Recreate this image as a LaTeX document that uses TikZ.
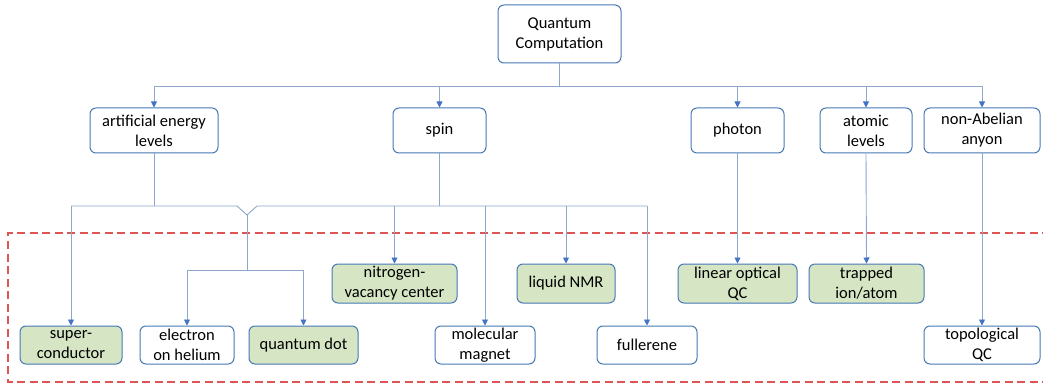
\documentclass[tikz,border=0pt]{standalone}
\usepackage{fontspec}
\setmainfont{Carlito}
\usetikzlibrary{arrows.meta}

\definecolor{boxblue}{RGB}{70,120,180}
\definecolor{boxgreen}{RGB}{214,230,196}
\definecolor{lineblue}{RGB}{140,168,205}
\definecolor{tipblue}{RGB}{68,114,196}
\definecolor{dashred}{RGB}{222,85,85}

\tikzset{
  qbox/.style={draw=boxblue, line width=1pt, rounded corners=6pt, align=center,
    inner sep=0pt, fill=white, font=\fontsize{16.5}{20}\selectfont},
  qgreen/.style={qbox, fill=boxgreen},
  link/.style={draw=lineblue, line width=0.9pt},
  arr/.style={link, -{Triangle[width=6pt,length=6pt,color=tipblue]}}
}

\begin{document}
\begin{tikzpicture}[x=1pt,y=-1pt]

    \useasboundingbox (0,0) rectangle (1043,387);

    % hardware region
    \draw[dashred, line width=1.3pt, dash pattern=on 8pt off 4.5pt]
        (1050,233) -- (8,233) -- (8,382) -- (1050,382);

    % root
    \node[qbox, minimum width=123, minimum height=58] (root) at (559.5,34) {Quantum\\Computation};

    % physical systems
    \node[qbox, minimum width=128, minimum height=45] (artif) at (154,130.5) {artificial energy\\levels};
    \node[qbox, minimum width=93, minimum height=45] (spin) at (439.5,130.5) {spin};
    \node[qbox, minimum width=93, minimum height=45] (photon) at (737.5,130.5) {photon};
    \node[qbox, minimum width=92, minimum height=45] (atomic) at (866,130.5) {atomic\\levels};
    \node[qbox, minimum width=116, minimum height=45] (anyon) at (982,130.5) {non-Abelian\\anyon};

    % implementations, upper row
    \node[qgreen, minimum width=125, minimum height=39] (nv) at (394.5,283.5) {nitrogen-\\vacancy center};
    \node[qgreen, minimum width=98, minimum height=39] (nmr) at (566,283.5) {liquid NMR};
    \node[qgreen, minimum width=119, minimum height=39] (loqc) at (737.5,283.5) {linear optical\\QC};
    \node[qgreen, minimum width=115, minimum height=39] (trap) at (866.5,283.5) {trapped\\ion/atom};

    % implementations, lower row
    \node[qgreen, minimum width=102, minimum height=38] (sc) at (71,345) {super-\\conductor};
    \node[qbox, minimum width=94, minimum height=38] (eh) at (187,345) {electron\\on helium};
    \node[qgreen, minimum width=109, minimum height=38] (qd) at (303.5,345) {quantum dot};
    \node[qbox, minimum width=100, minimum height=38] (mm) at (485,345) {molecular\\magnet};
    \node[qbox, minimum width=100, minimum height=38] (ful) at (647,345) {fullerene};
    \node[qbox, minimum width=116, minimum height=38] (topo) at (982,345) {topological\\QC};

    % root to physical systems
    \coordinate (bus) at (559.5,86);
    \draw[link] (root.south) -- (bus);
    \draw[link] (artif.north |- bus) -- (anyon.north |- bus);
    \foreach \n in {artif,spin,photon,atomic,anyon}
        \draw[arr] (\n.north |- bus) -- (\n.north);

    % lower bus with notch
    \coordinate (low) at (0,206);
    \coordinate (notch) at (247,215);
    \coordinate (split) at (247,270);
    \draw[link] (artif.south) -- (artif.south |- low);
    \draw[link] (spin.south) -- (spin.south |- low);
    \draw[link] (sc.north |- low) -- (237,206) -- (notch) -- (257,206) -- (ful.north |- low);
    \foreach \n in {sc,nv,mm,nmr,ful}
        \draw[arr] (\n.north |- low) -- (\n.north);
    \draw[link] (notch) -- (split);
    \draw[link] (eh.north |- split) -- (qd.north |- split);
    \foreach \n in {eh,qd}
        \draw[arr] (\n.north |- split) -- (\n.north);

    % single chains
    \draw[arr] (photon.south) -- (loqc.north);
    \draw[arr] (atomic.south) -- (trap.north);
    \draw[arr] (anyon.south) -- (topo.north);

\end{tikzpicture}
\end{document}
